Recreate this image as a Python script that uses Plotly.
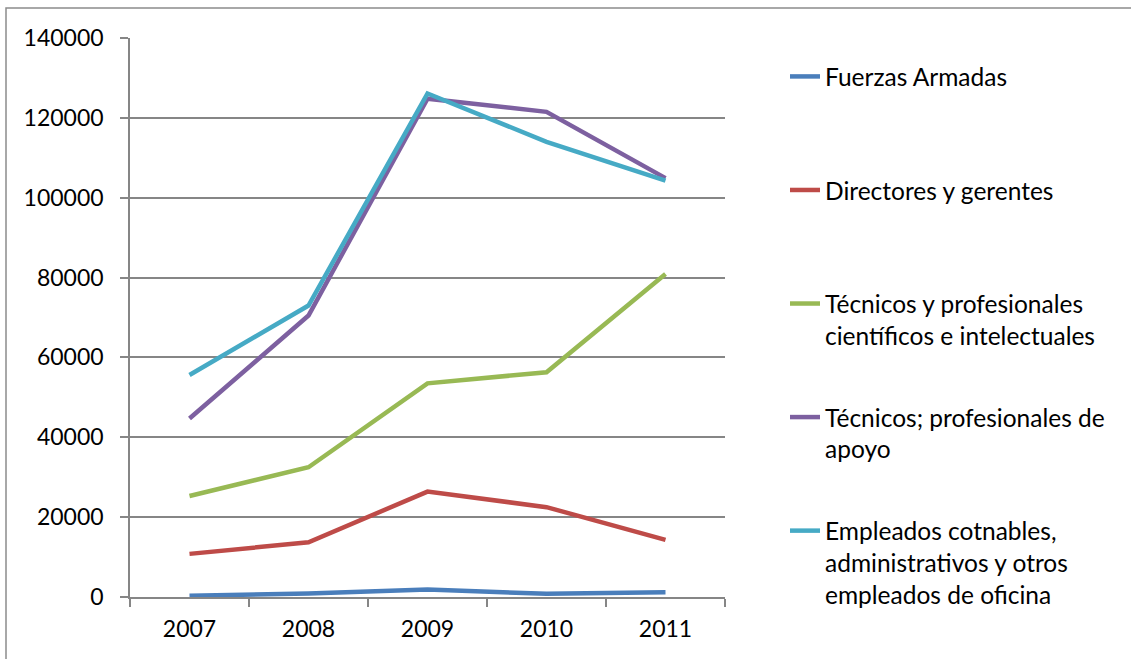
import plotly.graph_objects as go

years = ['2007', '2008', '2009', '2010', '2011']

fuerzas = [300, 900, 1900, 800, 1200]
directores = [10800, 13700, 26400, 22500, 14300]
tecnicos_prof = [25300, 32500, 53500, 56300, 80900]
tecnicos_apoyo = [44700, 70500, 124800, 121500, 104900]
empleados = [55600, 73000, 126100, 114000, 104300]

names = ['Fuerzas Armadas',
         'Directores y gerentes',
         'Técnicos y profesionales<br>científicos e intelectuales',
         'Técnicos; profesionales de<br>apoyo',
         'Empleados cotnables,<br>administrativos y otros<br>empleados de oficina']
colors = ['#4a7ebb', '#be4b48', '#98b954', '#7d60a0', '#46aac5']
series = [fuerzas, directores, tecnicos_prof, tecnicos_apoyo, empleados]

W, H = 1131, 659
L, R, T, B = 130, 406, 38, 62
pw, ph = W - L - R, H - T - B

fig = go.Figure()
for i in range(len(series)):
    # pad the legend text to three lines so entries are spaced evenly
    n = names[i].count('<br>') + 1
    label = names[i] + '<br>\u00a0' * (3 - n)
    fig.add_trace(go.Scatter(x=years, y=series[i], name=label, mode='lines',
                             legendgroup=str(i),
                             line=dict(color=colors[i], width=4.5)))

fig.update_layout(
    width=W, height=H, template='plotly_white',
    paper_bgcolor='white', plot_bgcolor='white',
    margin=dict(l=L, r=R, t=T, b=B),
    font=dict(family='Lato, Calibri, sans-serif', size=23, color='black'),
    legend=dict(x=(785 - L) / pw, y=1 - (54 - T) / ph, xanchor='left', yanchor='top',
                valign='top', tracegroupgap=15, itemwidth=30, maxheight=650,
                font=dict(size=24.5), bgcolor='rgba(0,0,0,0)'),
    showlegend=True,
)
fig.update_xaxes(type='category', range=[-0.5, 4.5], showgrid=False, showline=True,
                 linecolor='#868686', linewidth=1.5,
                 ticks='outside', tickson='boundaries', ticklen=8, tickcolor='#868686', tickwidth=1.5,
                 ticklabelstandoff=11, zeroline=False)
fig.update_yaxes(range=[0, 140000], dtick=20000, showgrid=True, gridcolor='#868686', gridwidth=1.5,
                 showline=True, linecolor='#868686', linewidth=1.5, ticks='outside', ticklen=8,
                 tickcolor='#868686', tickwidth=1.5, zeroline=False, tickformat='d',
                 ticklabelstandoff=12)

# outer chart border (left and top edges visible)
fig.add_shape(type='rect', xref='paper', yref='paper',
              x0=(6 - L) / pw, x1=(W + 20 - L) / pw,
              y0=-(B + 20) / ph, y1=1 + (T - 8) / ph,
              line=dict(color='#8c8c8c', width=1.5), layer='below')

fig.write_html('out.html', config={'displayModeBar': False},
               post_script="document.body.style.margin='0';")
